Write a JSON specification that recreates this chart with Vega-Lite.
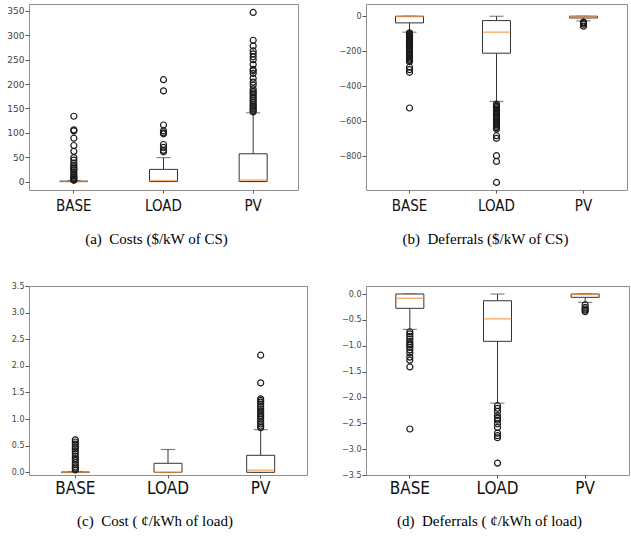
{
  "$schema": "https://vega.github.io/schema/vega-lite/v6.json",
  "padding": {"left": 6, "top": 3, "right": 0, "bottom": 0},
  "background": "white",
  "columns": 2,
  "bounds": "flush",
  "align": "all",
  "spacing": {"row": 93, "column": 59},
  "datasets": {
    "a_box": [
      {"cat": "BASE", "lower": 0, "q1": 0, "median": 0, "q3": 0.8, "upper": 1.5},
      {"cat": "LOAD", "lower": 0, "q1": 0, "median": 2, "q3": 25, "upper": 49},
      {"cat": "PV", "lower": 0, "q1": 0, "median": 3, "q3": 57, "upper": 141}
    ],
    "a_out": [
      {"cat": "BASE", "v": 134}, {"cat": "BASE", "v": 106}, {"cat": "BASE", "v": 104}, {"cat": "BASE", "v": 89},
      {"cat": "BASE", "v": 74}, {"cat": "BASE", "v": 62}, {"cat": "BASE", "v": 49}, {"cat": "BASE", "v": 44},
      {"cat": "BASE", "v": 38}, {"cat": "BASE", "v": 34}, {"cat": "BASE", "v": 30}, {"cat": "BASE", "v": 27},
      {"cat": "BASE", "v": 24}, {"cat": "BASE", "v": 20}, {"cat": "BASE", "v": 16}, {"cat": "BASE", "v": 12},
      {"cat": "BASE", "v": 9}, {"cat": "BASE", "v": 6}, {"cat": "BASE", "v": 4}, {"cat": "BASE", "v": 2.5},
      {"cat": "LOAD", "v": 209}, {"cat": "LOAD", "v": 186}, {"cat": "LOAD", "v": 116}, {"cat": "LOAD", "v": 104},
      {"cat": "LOAD", "v": 100}, {"cat": "LOAD", "v": 98}, {"cat": "LOAD", "v": 76}, {"cat": "LOAD", "v": 70},
      {"cat": "LOAD", "v": 64}, {"cat": "LOAD", "v": 61},
      {"cat": "PV", "v": 347}, {"cat": "PV", "v": 290}, {"cat": "PV", "v": 278}, {"cat": "PV", "v": 268},
      {"cat": "PV", "v": 262}, {"cat": "PV", "v": 256}, {"cat": "PV", "v": 250}, {"cat": "PV", "v": 240},
      {"cat": "PV", "v": 230}, {"cat": "PV", "v": 227}, {"cat": "PV", "v": 222}, {"cat": "PV", "v": 212},
      {"cat": "PV", "v": 204}, {"cat": "PV", "v": 198}, {"cat": "PV", "v": 190}, {"cat": "PV", "v": 185},
      {"cat": "PV", "v": 182}, {"cat": "PV", "v": 178}, {"cat": "PV", "v": 174}, {"cat": "PV", "v": 170},
      {"cat": "PV", "v": 166}, {"cat": "PV", "v": 162}, {"cat": "PV", "v": 158}, {"cat": "PV", "v": 155},
      {"cat": "PV", "v": 152}, {"cat": "PV", "v": 149}, {"cat": "PV", "v": 146}, {"cat": "PV", "v": 143}
    ],
    "b_box": [
      {"cat": "BASE", "lower": -91, "q1": -38, "median": -2, "q3": 0, "upper": 0},
      {"cat": "LOAD", "lower": -486, "q1": -211, "median": -91, "q3": -25, "upper": 0},
      {"cat": "PV", "lower": -27, "q1": -10, "median": -2, "q3": 0, "upper": 0}
    ],
    "b_out": [
      {"cat": "BASE", "v": -95}, {"cat": "BASE", "v": -100}, {"cat": "BASE", "v": -105}, {"cat": "BASE", "v": -110},
      {"cat": "BASE", "v": -115}, {"cat": "BASE", "v": -120}, {"cat": "BASE", "v": -125}, {"cat": "BASE", "v": -130},
      {"cat": "BASE", "v": -135}, {"cat": "BASE", "v": -140}, {"cat": "BASE", "v": -145}, {"cat": "BASE", "v": -150},
      {"cat": "BASE", "v": -155}, {"cat": "BASE", "v": -160}, {"cat": "BASE", "v": -165}, {"cat": "BASE", "v": -170},
      {"cat": "BASE", "v": -178}, {"cat": "BASE", "v": -185}, {"cat": "BASE", "v": -192}, {"cat": "BASE", "v": -200},
      {"cat": "BASE", "v": -208}, {"cat": "BASE", "v": -215}, {"cat": "BASE", "v": -222}, {"cat": "BASE", "v": -230},
      {"cat": "BASE", "v": -238}, {"cat": "BASE", "v": -245}, {"cat": "BASE", "v": -252}, {"cat": "BASE", "v": -259},
      {"cat": "BASE", "v": -291}, {"cat": "BASE", "v": -305}, {"cat": "BASE", "v": -320}, {"cat": "BASE", "v": -524},
      {"cat": "LOAD", "v": -501}, {"cat": "LOAD", "v": -508}, {"cat": "LOAD", "v": -515}, {"cat": "LOAD", "v": -522},
      {"cat": "LOAD", "v": -530}, {"cat": "LOAD", "v": -537}, {"cat": "LOAD", "v": -545}, {"cat": "LOAD", "v": -552},
      {"cat": "LOAD", "v": -560}, {"cat": "LOAD", "v": -568}, {"cat": "LOAD", "v": -575}, {"cat": "LOAD", "v": -582},
      {"cat": "LOAD", "v": -590}, {"cat": "LOAD", "v": -598}, {"cat": "LOAD", "v": -605}, {"cat": "LOAD", "v": -613},
      {"cat": "LOAD", "v": -620}, {"cat": "LOAD", "v": -628}, {"cat": "LOAD", "v": -636}, {"cat": "LOAD", "v": -644},
      {"cat": "LOAD", "v": -682}, {"cat": "LOAD", "v": -697}, {"cat": "LOAD", "v": -796}, {"cat": "LOAD", "v": -829},
      {"cat": "LOAD", "v": -949},
      {"cat": "PV", "v": -33}, {"cat": "PV", "v": -38}, {"cat": "PV", "v": -45}, {"cat": "PV", "v": -57}
    ],
    "c_box": [
      {"cat": "BASE", "lower": 0, "q1": 0, "median": 0, "q3": 0.005, "upper": 0.01},
      {"cat": "LOAD", "lower": 0, "q1": 0, "median": 0, "q3": 0.17, "upper": 0.43},
      {"cat": "PV", "lower": 0, "q1": 0, "median": 0.04, "q3": 0.32, "upper": 0.8}
    ],
    "c_out": [
      {"cat": "BASE", "v": 0.61}, {"cat": "BASE", "v": 0.57}, {"cat": "BASE", "v": 0.53}, {"cat": "BASE", "v": 0.48},
      {"cat": "BASE", "v": 0.44}, {"cat": "BASE", "v": 0.4}, {"cat": "BASE", "v": 0.35}, {"cat": "BASE", "v": 0.3},
      {"cat": "BASE", "v": 0.26}, {"cat": "BASE", "v": 0.23}, {"cat": "BASE", "v": 0.18}, {"cat": "BASE", "v": 0.14},
      {"cat": "BASE", "v": 0.1}, {"cat": "BASE", "v": 0.075}, {"cat": "BASE", "v": 0.045},
      {"cat": "PV", "v": 2.2}, {"cat": "PV", "v": 1.68}, {"cat": "PV", "v": 1.38}, {"cat": "PV", "v": 1.35},
      {"cat": "PV", "v": 1.32}, {"cat": "PV", "v": 1.28}, {"cat": "PV", "v": 1.23}, {"cat": "PV", "v": 1.19},
      {"cat": "PV", "v": 1.15}, {"cat": "PV", "v": 1.11}, {"cat": "PV", "v": 1.07}, {"cat": "PV", "v": 1.04},
      {"cat": "PV", "v": 1.0}, {"cat": "PV", "v": 0.95}, {"cat": "PV", "v": 0.91}, {"cat": "PV", "v": 0.87},
      {"cat": "PV", "v": 0.84}
    ],
    "d_box": [
      {"cat": "BASE", "lower": -0.683, "q1": -0.277, "median": -0.084, "q3": 0, "upper": 0},
      {"cat": "LOAD", "lower": -2.11, "q1": -0.915, "median": -0.48, "q3": -0.13, "upper": 0},
      {"cat": "PV", "lower": -0.16, "q1": -0.064, "median": -0.01, "q3": 0, "upper": 0}
    ],
    "d_out": [
      {"cat": "BASE", "v": -0.73}, {"cat": "BASE", "v": -0.77}, {"cat": "BASE", "v": -0.82}, {"cat": "BASE", "v": -0.87},
      {"cat": "BASE", "v": -0.92}, {"cat": "BASE", "v": -0.96}, {"cat": "BASE", "v": -0.99}, {"cat": "BASE", "v": -1.03},
      {"cat": "BASE", "v": -1.08}, {"cat": "BASE", "v": -1.14}, {"cat": "BASE", "v": -1.22}, {"cat": "BASE", "v": -1.28},
      {"cat": "BASE", "v": -1.41}, {"cat": "BASE", "v": -2.61},
      {"cat": "LOAD", "v": -2.16}, {"cat": "LOAD", "v": -2.21}, {"cat": "LOAD", "v": -2.27}, {"cat": "LOAD", "v": -2.35},
      {"cat": "LOAD", "v": -2.4}, {"cat": "LOAD", "v": -2.44}, {"cat": "LOAD", "v": -2.51}, {"cat": "LOAD", "v": -2.58},
      {"cat": "LOAD", "v": -2.69}, {"cat": "LOAD", "v": -2.74}, {"cat": "LOAD", "v": -2.78}, {"cat": "LOAD", "v": -3.27},
      {"cat": "PV", "v": -0.21}, {"cat": "PV", "v": -0.26}, {"cat": "PV", "v": -0.29}, {"cat": "PV", "v": -0.31},
      {"cat": "PV", "v": -0.34}
    ]
  },
  "concat": [
    {
      "width": 269, "height": 186,
      "title": {"text": "(a)\u00a0 Costs ($/kW of CS)", "dx": -7, "offset": 19},
      "encoding": {"x": {"field": "cat", "type": "nominal", "title": null, "scale": {"type": "band", "domain": ["BASE", "LOAD", "PV"], "paddingInner": 0, "paddingOuter": 0}, "axis": {"labelFontSize": 15, "labelPadding": 5}}},
      "layer": [
        {"data": {"name": "a_box"}, "mark": {"type": "rule", "color": "#333", "strokeWidth": 1}, "encoding": {"y": {"field": "lower", "type": "quantitative", "title": null, "scale": {"domain": [-17.35, 364.35], "nice": false, "zero": false}, "axis": {"values": [0, 50, 100, 150, 200, 250, 300, 350], "format": "d", "labelFontSize": 9}}, "y2": {"field": "q1"}}},
        {"data": {"name": "a_box"}, "mark": {"type": "rule", "color": "#333", "strokeWidth": 1}, "encoding": {"y": {"field": "q3", "type": "quantitative", "title": null, "scale": {"domain": [-17.35, 364.35], "nice": false, "zero": false}, "axis": {"values": [0, 50, 100, 150, 200, 250, 300, 350], "format": "d", "labelFontSize": 9}}, "y2": {"field": "upper"}}},
        {"data": {"name": "a_box"}, "mark": {"type": "tick", "orient": "horizontal", "size": 14, "thickness": 1, "color": "#333"}, "encoding": {"y": {"field": "lower", "type": "quantitative", "title": null, "scale": {"domain": [-17.35, 364.35], "nice": false, "zero": false}, "axis": {"values": [0, 50, 100, 150, 200, 250, 300, 350], "format": "d", "labelFontSize": 9}}}},
        {"data": {"name": "a_box"}, "mark": {"type": "tick", "orient": "horizontal", "size": 14, "thickness": 1, "color": "#333"}, "encoding": {"y": {"field": "upper", "type": "quantitative", "title": null, "scale": {"domain": [-17.35, 364.35], "nice": false, "zero": false}, "axis": {"values": [0, 50, 100, 150, 200, 250, 300, 350], "format": "d", "labelFontSize": 9}}}},
        {"data": {"name": "a_box"}, "mark": {"type": "bar", "width": 28, "fill": "white", "stroke": "#333", "strokeWidth": 1}, "encoding": {"y": {"field": "q1", "type": "quantitative", "title": null, "scale": {"domain": [-17.35, 364.35], "nice": false, "zero": false}, "axis": {"values": [0, 50, 100, 150, 200, 250, 300, 350], "format": "d", "labelFontSize": 9}}, "y2": {"field": "q3"}}},
        {"data": {"name": "a_box"}, "mark": {"type": "tick", "orient": "horizontal", "size": 28, "thickness": 1.5, "color": "#f7923a"}, "encoding": {"y": {"field": "median", "type": "quantitative", "title": null, "scale": {"domain": [-17.35, 364.35], "nice": false, "zero": false}, "axis": {"values": [0, 50, 100, 150, 200, 250, 300, 350], "format": "d", "labelFontSize": 9}}}},
        {"data": {"name": "a_out"}, "mark": {"type": "point", "shape": "circle", "filled": false, "size": 36, "stroke": "#1a1a1a", "strokeWidth": 1.2, "opacity": 1}, "encoding": {"y": {"field": "v", "type": "quantitative", "title": null, "scale": {"domain": [-17.35, 364.35], "nice": false, "zero": false}, "axis": {"values": [0, 50, 100, 150, 200, 250, 300, 350], "format": "d", "labelFontSize": 9}}}}
      ]
    },
    {
      "width": 261, "height": 186,
      "title": {"text": "(b)\u00a0 Deferrals ($/kW of CS)", "dx": -11, "offset": 19},
      "encoding": {"x": {"field": "cat", "type": "nominal", "title": null, "scale": {"type": "band", "domain": ["BASE", "LOAD", "PV"], "paddingInner": 0, "paddingOuter": 0}, "axis": {"labelFontSize": 15, "labelPadding": 5}}},
      "layer": [
        {"data": {"name": "b_box"}, "mark": {"type": "rule", "color": "#333", "strokeWidth": 1}, "encoding": {"y": {"field": "lower", "type": "quantitative", "title": null, "scale": {"domain": [-992, 69.8], "nice": false, "zero": false}, "axis": {"values": [0, -200, -400, -600, -800], "format": "d", "labelFontSize": 8}}, "y2": {"field": "q1"}}},
        {"data": {"name": "b_box"}, "mark": {"type": "rule", "color": "#333", "strokeWidth": 1}, "encoding": {"y": {"field": "q3", "type": "quantitative", "title": null, "scale": {"domain": [-992, 69.8], "nice": false, "zero": false}, "axis": {"values": [0, -200, -400, -600, -800], "format": "d", "labelFontSize": 8}}, "y2": {"field": "upper"}}},
        {"data": {"name": "b_box"}, "mark": {"type": "tick", "orient": "horizontal", "size": 14, "thickness": 1, "color": "#333"}, "encoding": {"y": {"field": "lower", "type": "quantitative", "title": null, "scale": {"domain": [-992, 69.8], "nice": false, "zero": false}, "axis": {"values": [0, -200, -400, -600, -800], "format": "d", "labelFontSize": 8}}}},
        {"data": {"name": "b_box"}, "mark": {"type": "tick", "orient": "horizontal", "size": 14, "thickness": 1, "color": "#333"}, "encoding": {"y": {"field": "upper", "type": "quantitative", "title": null, "scale": {"domain": [-992, 69.8], "nice": false, "zero": false}, "axis": {"values": [0, -200, -400, -600, -800], "format": "d", "labelFontSize": 8}}}},
        {"data": {"name": "b_box"}, "mark": {"type": "bar", "width": 28, "fill": "white", "stroke": "#333", "strokeWidth": 1}, "encoding": {"y": {"field": "q1", "type": "quantitative", "title": null, "scale": {"domain": [-992, 69.8], "nice": false, "zero": false}, "axis": {"values": [0, -200, -400, -600, -800], "format": "d", "labelFontSize": 8}}, "y2": {"field": "q3"}}},
        {"data": {"name": "b_box"}, "mark": {"type": "tick", "orient": "horizontal", "size": 28, "thickness": 1.5, "color": "#f7923a"}, "encoding": {"y": {"field": "median", "type": "quantitative", "title": null, "scale": {"domain": [-992, 69.8], "nice": false, "zero": false}, "axis": {"values": [0, -200, -400, -600, -800], "format": "d", "labelFontSize": 8}}}},
        {"data": {"name": "b_out"}, "mark": {"type": "point", "shape": "circle", "filled": false, "size": 36, "stroke": "#1a1a1a", "strokeWidth": 1.2, "opacity": 1}, "encoding": {"y": {"field": "v", "type": "quantitative", "title": null, "scale": {"domain": [-992, 69.8], "nice": false, "zero": false}, "axis": {"values": [0, -200, -400, -600, -800], "format": "d", "labelFontSize": 8}}}}
      ]
    },
    {
      "width": 278, "height": 189,
      "title": {"text": "(c)\u00a0 Cost ( \u00a2/kWh of load)", "dx": -13, "offset": 18},
      "encoding": {"x": {"field": "cat", "type": "nominal", "title": null, "scale": {"type": "band", "domain": ["BASE", "LOAD", "PV"], "paddingInner": 0, "paddingOuter": 0}, "axis": {"labelFontSize": 17, "labelPadding": 2}}},
      "layer": [
        {"data": {"name": "c_box"}, "mark": {"type": "rule", "color": "#333", "strokeWidth": 1}, "encoding": {"y": {"field": "lower", "type": "quantitative", "title": null, "scale": {"domain": [-0.05, 3.5], "nice": false, "zero": false}, "axis": {"values": [0, 0.5, 1, 1.5, 2, 2.5, 3, 3.5], "format": ".1f", "labelFontSize": 8}}, "y2": {"field": "q1"}}},
        {"data": {"name": "c_box"}, "mark": {"type": "rule", "color": "#333", "strokeWidth": 1}, "encoding": {"y": {"field": "q3", "type": "quantitative", "title": null, "scale": {"domain": [-0.05, 3.5], "nice": false, "zero": false}, "axis": {"values": [0, 0.5, 1, 1.5, 2, 2.5, 3, 3.5], "format": ".1f", "labelFontSize": 8}}, "y2": {"field": "upper"}}},
        {"data": {"name": "c_box"}, "mark": {"type": "tick", "orient": "horizontal", "size": 14, "thickness": 1, "color": "#333"}, "encoding": {"y": {"field": "lower", "type": "quantitative", "title": null, "scale": {"domain": [-0.05, 3.5], "nice": false, "zero": false}, "axis": {"values": [0, 0.5, 1, 1.5, 2, 2.5, 3, 3.5], "format": ".1f", "labelFontSize": 8}}}},
        {"data": {"name": "c_box"}, "mark": {"type": "tick", "orient": "horizontal", "size": 14, "thickness": 1, "color": "#333"}, "encoding": {"y": {"field": "upper", "type": "quantitative", "title": null, "scale": {"domain": [-0.05, 3.5], "nice": false, "zero": false}, "axis": {"values": [0, 0.5, 1, 1.5, 2, 2.5, 3, 3.5], "format": ".1f", "labelFontSize": 8}}}},
        {"data": {"name": "c_box"}, "mark": {"type": "bar", "width": 28, "fill": "white", "stroke": "#333", "strokeWidth": 1}, "encoding": {"y": {"field": "q1", "type": "quantitative", "title": null, "scale": {"domain": [-0.05, 3.5], "nice": false, "zero": false}, "axis": {"values": [0, 0.5, 1, 1.5, 2, 2.5, 3, 3.5], "format": ".1f", "labelFontSize": 8}}, "y2": {"field": "q3"}}},
        {"data": {"name": "c_box"}, "mark": {"type": "tick", "orient": "horizontal", "size": 28, "thickness": 1.5, "color": "#f7923a"}, "encoding": {"y": {"field": "median", "type": "quantitative", "title": null, "scale": {"domain": [-0.05, 3.5], "nice": false, "zero": false}, "axis": {"values": [0, 0.5, 1, 1.5, 2, 2.5, 3, 3.5], "format": ".1f", "labelFontSize": 8}}}},
        {"data": {"name": "c_out"}, "mark": {"type": "point", "shape": "circle", "filled": false, "size": 36, "stroke": "#1a1a1a", "strokeWidth": 1.2, "opacity": 1}, "encoding": {"y": {"field": "v", "type": "quantitative", "title": null, "scale": {"domain": [-0.05, 3.5], "nice": false, "zero": false}, "axis": {"values": [0, 0.5, 1, 1.5, 2, 2.5, 3, 3.5], "format": ".1f", "labelFontSize": 8}}}}
      ]
    },
    {
      "width": 263, "height": 189,
      "title": {"text": "(d)\u00a0 Deferrals ( \u00a2/kWh of load)", "dx": -8, "offset": 18},
      "encoding": {"x": {"field": "cat", "type": "nominal", "title": null, "scale": {"type": "band", "domain": ["BASE", "LOAD", "PV"], "paddingInner": 0, "paddingOuter": 0}, "axis": {"labelFontSize": 17, "labelPadding": 2}}},
      "layer": [
        {"data": {"name": "d_box"}, "mark": {"type": "rule", "color": "#333", "strokeWidth": 1}, "encoding": {"y": {"field": "lower", "type": "quantitative", "title": null, "scale": {"domain": [-3.5, 0.155], "nice": false, "zero": false}, "axis": {"values": [0, -0.5, -1, -1.5, -2, -2.5, -3, -3.5], "format": ".1f", "labelFontSize": 8}}, "y2": {"field": "q1"}}},
        {"data": {"name": "d_box"}, "mark": {"type": "rule", "color": "#333", "strokeWidth": 1}, "encoding": {"y": {"field": "q3", "type": "quantitative", "title": null, "scale": {"domain": [-3.5, 0.155], "nice": false, "zero": false}, "axis": {"values": [0, -0.5, -1, -1.5, -2, -2.5, -3, -3.5], "format": ".1f", "labelFontSize": 8}}, "y2": {"field": "upper"}}},
        {"data": {"name": "d_box"}, "mark": {"type": "tick", "orient": "horizontal", "size": 14, "thickness": 1, "color": "#333"}, "encoding": {"y": {"field": "lower", "type": "quantitative", "title": null, "scale": {"domain": [-3.5, 0.155], "nice": false, "zero": false}, "axis": {"values": [0, -0.5, -1, -1.5, -2, -2.5, -3, -3.5], "format": ".1f", "labelFontSize": 8}}}},
        {"data": {"name": "d_box"}, "mark": {"type": "tick", "orient": "horizontal", "size": 14, "thickness": 1, "color": "#333"}, "encoding": {"y": {"field": "upper", "type": "quantitative", "title": null, "scale": {"domain": [-3.5, 0.155], "nice": false, "zero": false}, "axis": {"values": [0, -0.5, -1, -1.5, -2, -2.5, -3, -3.5], "format": ".1f", "labelFontSize": 8}}}},
        {"data": {"name": "d_box"}, "mark": {"type": "bar", "width": 28, "fill": "white", "stroke": "#333", "strokeWidth": 1}, "encoding": {"y": {"field": "q1", "type": "quantitative", "title": null, "scale": {"domain": [-3.5, 0.155], "nice": false, "zero": false}, "axis": {"values": [0, -0.5, -1, -1.5, -2, -2.5, -3, -3.5], "format": ".1f", "labelFontSize": 8}}, "y2": {"field": "q3"}}},
        {"data": {"name": "d_box"}, "mark": {"type": "tick", "orient": "horizontal", "size": 28, "thickness": 1.5, "color": "#f7923a"}, "encoding": {"y": {"field": "median", "type": "quantitative", "title": null, "scale": {"domain": [-3.5, 0.155], "nice": false, "zero": false}, "axis": {"values": [0, -0.5, -1, -1.5, -2, -2.5, -3, -3.5], "format": ".1f", "labelFontSize": 8}}}},
        {"data": {"name": "d_out"}, "mark": {"type": "point", "shape": "circle", "filled": false, "size": 36, "stroke": "#1a1a1a", "strokeWidth": 1.2, "opacity": 1}, "encoding": {"y": {"field": "v", "type": "quantitative", "title": null, "scale": {"domain": [-3.5, 0.155], "nice": false, "zero": false}, "axis": {"values": [0, -0.5, -1, -1.5, -2, -2.5, -3, -3.5], "format": ".1f", "labelFontSize": 8}}}}
      ]
    }
  ],
  "config": {
    "view": {"stroke": "#8f8f8f", "strokeWidth": 1},
    "axisY": {"labelFont": "DejaVu Sans", "labelColor": "#444", "tickColor": "#555", "tickSize": 4, "labelPadding": 1, "domain": false, "grid": false},
    "axisX": {"labelFont": "Liberation Sans Narrow, DejaVu Sans Condensed, sans-serif", "labelColor": "#111", "labelAngle": 0, "tickColor": "#555", "tickSize": 3, "domain": false, "grid": false, "bandPosition": 0.5},
    "title": {"font": "Liberation Serif", "fontSize": 15, "fontWeight": "normal", "color": "#000", "orient": "bottom", "anchor": "middle", "offset": 21}
  }
}
